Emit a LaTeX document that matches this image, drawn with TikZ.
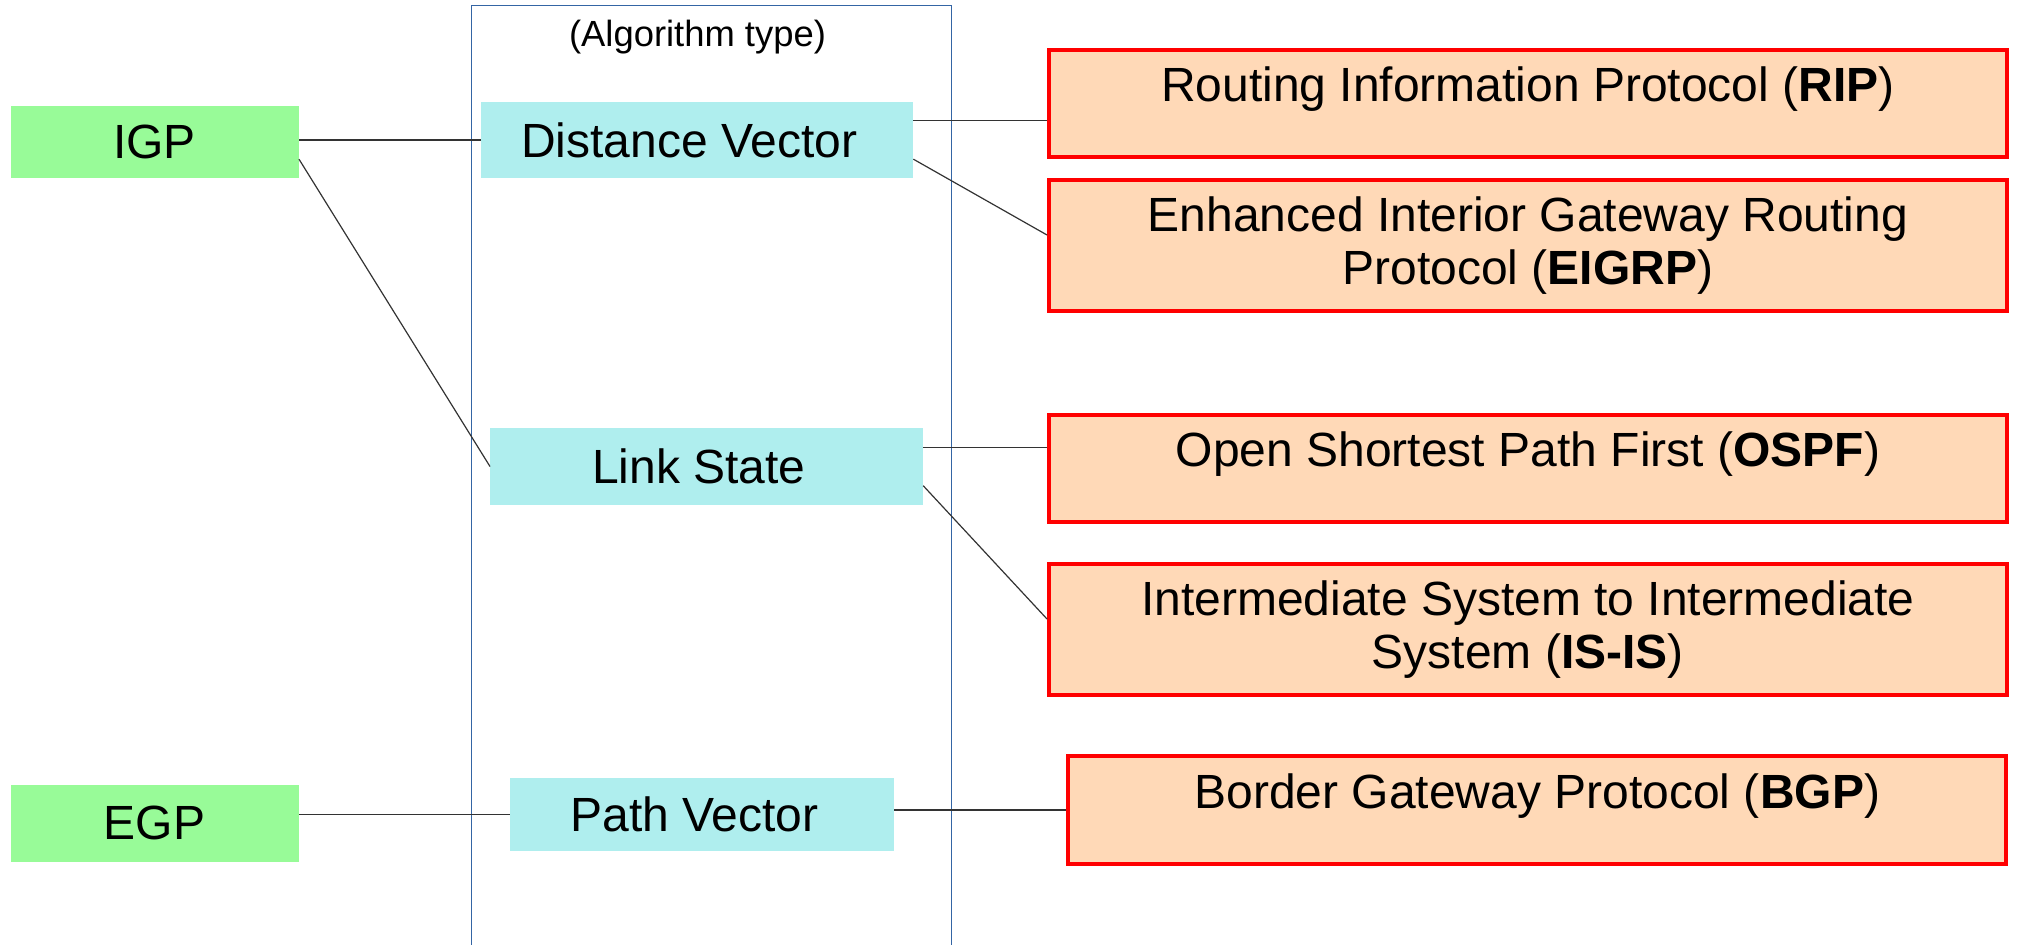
\documentclass[tikz,border=0pt]{standalone}
\usepackage{fontspec}
\setmainfont{Liberation Sans}
\usepackage[rgb]{xcolor}
\usepackage{tikz}

\definecolor{gpgreen}{HTML}{98FB98}
\definecolor{algcyan}{HTML}{AFEEEE}
\definecolor{protpeach}{HTML}{FFD9B7}
\definecolor{frameblue}{HTML}{3465A4}

\newcommand{\protline}[1]{\raisebox{1pt}[0pt][0pt]{#1}}
\newcommand{\algtext}[1]{#1\hspace*{7.6pt}}

\begin{document}
\begin{tikzpicture}[x=0.5pt, y=-0.5pt,
    bigfont/.style={font=\fontsize{24}{26.5}\selectfont},
    gpbox/.style={bigfont, fill=gpgreen, inner sep=0pt, minimum width=144pt},
    algbox/.style={bigfont, fill=algcyan, inner sep=0pt},
    protbox/.style={bigfont, draw=red, line width=2pt, fill=protpeach, inner sep=0pt, align=center, minimum width=478.9pt},
    link/.style={black!80, line width=0.6pt}]

\useasboundingbox (0,0) rectangle (2017,945);



% Algorithm type column
\draw[frameblue, line width=0.6pt] (471.5,945) -- (471.5,5.5) -- (951.3,5.5) -- (951.3,945);
\path 
(697.5,46.7) node [anchor=base, font=\fontsize{18.2}{21}\selectfont] (algtype) {(Algorithm type)};



% Gateway protocols
\path 
(154.6,142.2) node [gpbox, minimum height=36pt] (IGP) {IGP};

\path 
(154.6,823.2) node [gpbox, minimum height=38.5pt] (EGP) {EGP};



% Algorithms
\path 
(697,140) node [algbox, minimum width=216pt, minimum height=38.3pt] (DV) {\algtext{Distance Vector}};

\path 
(706.6,466.5) node [algbox, minimum width=216.2pt, minimum height=38.5pt] (LS) {\algtext{Link State}};

\path 
(702,814.3) node [algbox, minimum width=192pt, minimum height=36.4pt] (PV) {\algtext{Path Vector}};



% Routing protocols
\path 
(1527.9,103.5) node [protbox, minimum height=53.8pt] (RIP) {\protline{Routing Information Protocol (\textbf{RIP})}};

\path 
(1527.9,245.8) node [protbox, minimum height=65.5pt] (EIGRP) {Enhanced Interior Gateway Routing\\Protocol (\textbf{EIGRP})};

\path 
(1527.9,468.5) node [protbox, minimum height=53.8pt] (OSPF) {\protline{Open Shortest Path First (\textbf{OSPF})}};

\path 
(1527.9,629.8) node [protbox, minimum height=65.5pt] (ISIS) {Intermediate System to Intermediate\\System (\textbf{IS-IS})};

\path 
(1537.2,810) node [protbox, minimum width=469.2pt, minimum height=54pt] (BGP) {\protline{Border Gateway Protocol (\textbf{BGP})}};



% Links
\draw[link] (DV.west -| IGP.east) -- (DV.west);
\draw[link] ([yshift=-8.5pt]IGP.east) -- (LS.west);
\draw[link] (PV.west -| EGP.east) -- (PV.west);

\draw[link] ([yshift=9.6pt]DV.east) -- ([yshift=9.6pt]DV.east -| RIP.west);
\draw[link] ([yshift=-9.6pt]DV.east) -- ([yshift=5.4pt]EIGRP.west);

\draw[link] ([yshift=9.6pt]LS.east) -- ([yshift=9.6pt]LS.east -| OSPF.west);
\draw[link] ([yshift=-9.6pt]LS.east) -- ([yshift=5.4pt]ISIS.west);

\draw[link] (BGP.west -| PV.east) -- (BGP.west);


\end{tikzpicture}
\end{document}
